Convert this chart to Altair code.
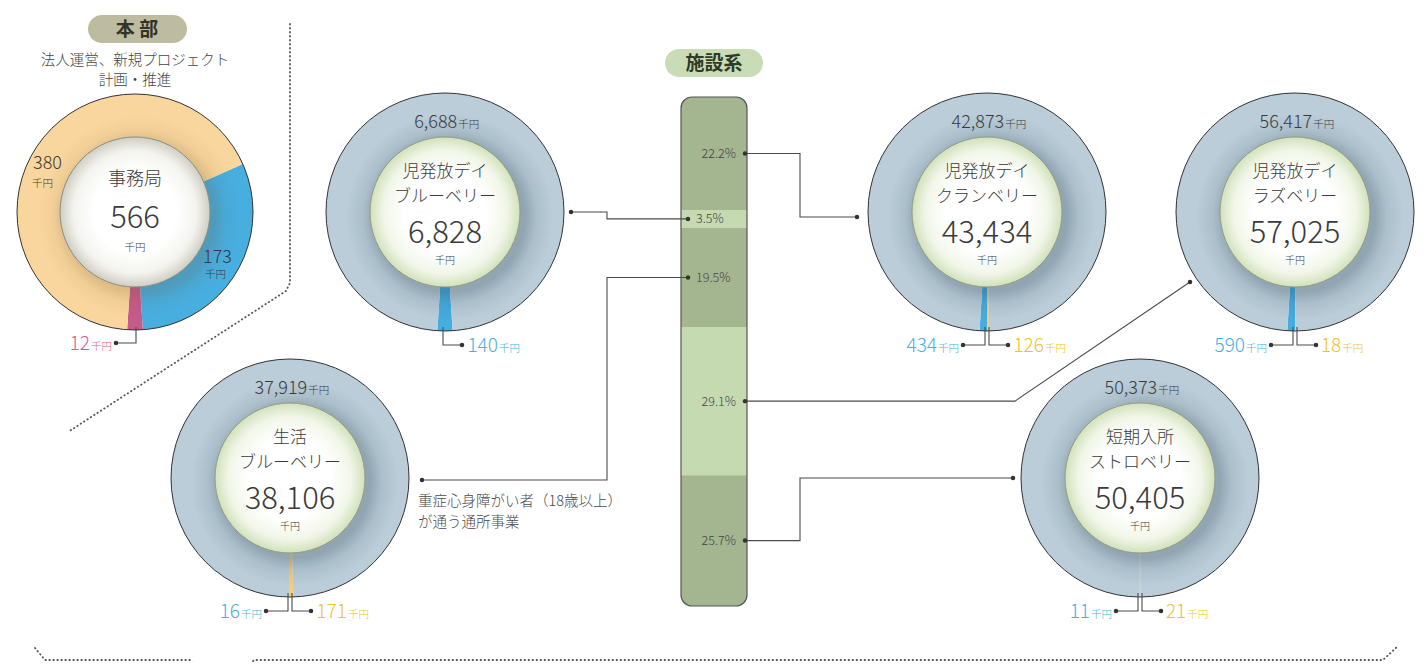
import math
import altair as alt
import pandas as pd

# ---------------- values ----------------
hq_badge = "本 部"
hq_caption = ["法人運営、新規プロジェクト", "計画・推進"]
hq_name = "事務局"
hq_total = 566
hq_parts = ["blue", "pink", "orange"]      # clockwise from the right side
hq_values = [173, 12, 380]

fac_badge = "施設系"
fac_line1 = ["児発放デイ", "児発放デイ", "児発放デイ", "生活", "短期入所"]
fac_line2 = ["ブルーベリー", "クランベリー", "ラズベリー", "ブルーベリー", "ストロベリー"]
fac_total = [6828, 43434, 57025, 38106, 50405]
fac_main = [6688, 42873, 56417, 37919, 50373]
fac_blue = [140, 434, 590, 16, 11]
fac_yellow = [0, 126, 18, 171, 21]
fac_note = ["重症心身障がい者（18歳以上）", "が通う通所事業"]

bar_pct = [22.2, 3.5, 19.5, 29.1, 25.7]     # top to bottom
bar_facility = [1, 0, 3, 2, 4]              # which facility each band belongs to
bar_shade = ["dark", "light", "dark", "light", "dark"]
unit = "千円"

# ---------------- layout & style (picture pixels) ----------------
PAGE = 8
W, H = 1407, 654
FONT = "Noto Sans CJK JP"
LIGHT = 300
C_TEXT = "#3a3a3a"
C_LINE = "#4a4a4a"
C_RING = "#bacdd9"
C_BLUE_SLICE = "#45ade0"
C_YEL_SLICE = "#f3cd78"
C_PINK_SLICE = "#c65a8b"
C_ORANGE = "#f9d69d"
C_BLUE_TXT = "#45b0e3"
C_YEL_TXT = "#efc12e"
C_PINK_TXT = "#d4598f"
HQ_FILL = {"blue": "#47aee0", "pink": C_PINK_SLICE, "orange": C_ORANGE}
BAR_FILL = {"dark": "#a3b690", "light": "#c6dab1"}

HQ_C = (135, 212)
HQ_R = (75, 118)
FAC_C = [(445, 212), (987, 212), (1295, 212), (290, 478), (1140, 478)]
FAC_R = (75, 119)
BAR_X0, BAR_X1, BAR_Y0, BAR_Y1 = 681, 747, 97, 606

TWO_PI = 2 * math.pi


def tw(s, fs):
    w = 0.0
    for ch in s:
        if ch.isdigit():
            w += 0.56 * fs
        elif ch in ",.%":
            w += 0.28 * fs
        else:
            w += 1.0 * fs
    return w


# ---------------- donut slices ----------------
slices, rings = [], []


def add_slices(cx, cy, ri, ro, vals, fills, start):
    s = float(sum(vals))
    a = start
    for v, f in zip(vals, fills):
        if v <= 0:
            continue
        b = a + v / s * TWO_PI
        slices.append(dict(cx=cx, cy=cy, t0=a, t1=b, ri=ri, ro=ro, fill=f))
        a = b


hq_sum = float(sum(hq_values))
hq_start = math.pi - (hq_values[0] + hq_values[1] / 2) / hq_sum * TWO_PI
add_slices(HQ_C[0], HQ_C[1], HQ_R[0], HQ_R[1], hq_values,
           [HQ_FILL[p] for p in hq_parts], hq_start)
rings.append(dict(cx=HQ_C[0], cy=HQ_C[1], ri=HQ_R[0], ro=HQ_R[1], kind="hq",
                  t0=0.0, t1=TWO_PI, zero=0))

for i, (cx, cy) in enumerate(FAC_C):
    vals = [fac_yellow[i], fac_blue[i], fac_main[i]]
    s = float(sum(vals))
    if fac_yellow[i] > 0:
        start = math.pi - fac_yellow[i] / s * TWO_PI
    else:
        start = math.pi - fac_blue[i] / 2 / s * TWO_PI
    add_slices(cx, cy, FAC_R[0], FAC_R[1], vals, [C_YEL_SLICE, C_BLUE_SLICE, C_RING], start)
    rings.append(dict(cx=cx, cy=cy, ri=FAC_R[0], ro=FAC_R[1], kind="fac",
                      t0=0.0, t1=TWO_PI, zero=0))

df_slices = pd.DataFrame(slices)
df_rings = pd.DataFrame(rings)

# ---------------- texts, lines, dots ----------------
texts, lines, dots = [], [], []


def T(x, y, s, fs, col=C_TEXT, align="center", weight=LIGHT):
    texts.append(dict(x=x, yb=y + 0.36 * fs, text=s, fs=fs, col=col,
                      align=align, weight=weight))


def compound(split, y, num, fs_num, col, fs_unit=10.5):
    yb = y + 0.36 * fs_num
    texts.append(dict(x=split, yb=yb, text=num, fs=fs_num, col=col, align="right", weight=LIGHT))
    texts.append(dict(x=split + 1, yb=yb, text=unit, fs=fs_unit, col=col, align="left", weight=LIGHT))


line_counter = [0]


def polyline(pts, kind="solid"):
    lid = line_counter[0]
    line_counter[0] += 1
    for k, (x, y) in enumerate(pts):
        lines.append(dict(id=f"l{lid}", k=k, x=x, y=y, kind=kind))


def dot(x, y):
    dots.append(dict(x=x, y=y))


# headquarters block
T(137, 29, hq_badge, 19, "#33332a", weight=700)
T(135, 60, hq_caption[0], 14.5, "#444444")
T(135, 80, hq_caption[1], 14.5, "#444444")
cx, cy = HQ_C
T(cx, cy - 33, hq_name, 18)
T(cx, cy + 5, f"{hq_total:,}", 31)
T(cx, cy + 35, unit, 10.5)
T(33, 163, f"{hq_values[2]:,}", 18, align="left")
T(32, 183, unit, 10.5, align="left")
T(203, 257, f"{hq_values[0]:,}", 18, align="left")
T(205, 274, unit, 10.5, align="left")
ly = cy + 131
polyline([(cx + 1, cy + HQ_R[1] - 3), (cx + 1, ly), (cx - 19, ly)])
dot(cx - 19, ly)
compound(cx - 24 - tw(unit, 10.5), ly, f"{hq_values[1]:,}", 19, C_PINK_TXT)

# facility donuts
for i, (cx, cy) in enumerate(FAC_C):
    num = f"{fac_main[i]:,}"
    wn, wu = tw(num, 18), tw(unit, 10.5)
    compound(cx + (wn - wu) / 2, cy - 90, num, 18, C_TEXT)
    T(cx, cy - 41, fac_line1[i], 17)
    T(cx, cy - 16, fac_line2[i], 17)
    T(cx, cy + 20, f"{fac_total[i]:,}", 31)
    T(cx, cy + 48, unit, 10)
    ly = cy + 133
    ro = FAC_R[1]
    if fac_yellow[i] > 0:
        polyline([(cx - 2, cy + ro - 4), (cx - 2, ly), (cx - 24, ly)])
        dot(cx - 24, ly)
        compound(cx - 29 - tw(unit, 10.5), ly, f"{fac_blue[i]:,}", 19, C_BLUE_TXT)
        polyline([(cx + 2, cy + ro - 4), (cx + 2, ly), (cx + 21, ly)])
        dot(cx + 21, ly)
        ytxt = f"{fac_yellow[i]:,}"
        compound(cx + 25 + tw(ytxt, 19), ly, ytxt, 19, C_YEL_TXT)
    else:
        polyline([(cx - 2, cy + ro - 4), (cx - 2, ly), (cx + 17, ly)])
        dot(cx + 17, ly)
        btxt = f"{fac_blue[i]:,}"
        compound(cx + 21 + tw(btxt, 19), ly, btxt, 19, C_BLUE_TXT)

# note for 生活ブルーベリー
T(418, 501, fac_note[0], 14.5, "#4a4a4a", align="left")
T(418, 522, fac_note[1], 14.5, "#4a4a4a", align="left")

# facility badge
T(714, 63, fac_badge, 19, "#2f3a28", weight=700)

# stacked share bar
bars = []
acc = 0.0
span = BAR_Y1 - BAR_Y0
mids = []
for k, p in enumerate(bar_pct):
    y0 = BAR_Y0 + acc / 100.0 * span
    y1 = BAR_Y0 + (acc + p) / 100.0 * span
    pos = "top" if k == 0 else ("bottom" if k == len(bar_pct) - 1 else "mid")
    bars.append(dict(x0=BAR_X0, x1=BAR_X1, y0=y0, y1=y1, fill=BAR_FILL[bar_shade[k]], pos=pos))
    mids.append((y0 + y1) / 2)
    acc += p
df_bar = pd.DataFrame(bars)
df_bar_outline = pd.DataFrame([dict(x0=BAR_X0, x1=BAR_X1, y0=BAR_Y0, y1=BAR_Y1)])

label_side = ["right", "left", "left", "right", "right"]
for k, p in enumerate(bar_pct):
    m = mids[k]
    if label_side[k] == "right":
        T(736, m, f"{p:.1f}%", 12.5, "#444444", align="right")
        dot(745, m)
    else:
        T(696, m, f"{p:.1f}%", 12.5, "#444444", align="left")
        dot(688, m)

# connectors bar <-> donuts
polyline([(745, mids[0]), (800, mids[0]), (800, 217), (857, 217)]); dot(857, 217)
polyline([(571, 212), (607, 212), (607, mids[1]), (688, mids[1])]); dot(571, 212)
polyline([(688, mids[2]), (607, mids[2]), (607, 480), (422, 480)]); dot(422, 480)
polyline([(745, mids[3]), (1015, mids[3]), (1190, 282)]); dot(1190, 282)
polyline([(745, mids[4]), (800, mids[4]), (800, 478), (1013, 478)]); dot(1013, 478)

# dotted separators
polyline([(290, 24), (290, 283), (286, 291), (68, 432)], "dot")
polyline([(35, 648), (45, 660), (190, 660), (198, 670)], "dot")
polyline([(245, 670), (254, 660), (1383, 660), (1398, 646)], "dot")

df_text = pd.DataFrame(texts)
df_lines = pd.DataFrame(lines)
df_dots = pd.DataFrame(dots)
df_pills = pd.DataFrame([
    dict(x0=88, x1=187, y0=15, y1=43, fill="#bdbca1"),
    dict(x0=665, x1=763, y0=49, y1=77, fill="#c9dcb5"),
])

# ---------------- scales & helpers ----------------
XS = alt.Scale(domain=[PAGE, PAGE + W], nice=False, zero=False)
YS = alt.Scale(domain=[PAGE, PAGE + H], nice=False, zero=False, reverse=True)


def xe(f):
    return alt.X(f"{f}:Q", scale=XS, axis=None)


def ye(f):
    return alt.Y(f"{f}:Q", scale=YS, axis=None)


def arc_chart(df, ro="ro", ri="ri", **mark):
    return alt.Chart(df).mark_arc(**mark).encode(
        x=xe("cx"), y=ye("cy"),
        theta=alt.Theta("t0:Q", scale=None, stack=False),
        theta2=alt.Theta2("t1:Q"),
        radius=alt.Radius(f"{ro}:Q", scale=None),
        radius2=alt.Radius2(f"{ri}:Q"),
    )


def radial(stops, c=0.5):
    return {"gradient": "radial", "x1": c, "y1": c, "r1": 0, "x2": c, "y2": c, "r2": 0.5,
            "stops": [{"offset": o, "color": col} for o, col in stops]}


layers = []

# badges
layers.append(alt.Chart(df_pills).mark_rect(cornerRadius=14).encode(
    x=xe("x0"), x2=alt.X2("x1:Q"), y=ye("y0"), y2=alt.Y2("y1:Q"),
    color=alt.Color("fill:N", scale=None)))

# dotted lines
layers.append(alt.Chart(df_lines[df_lines.kind == "dot"]).mark_line(
    strokeDash=[0.5, 3.5], strokeCap="round", strokeWidth=1.8, color="#555555").encode(
    x=xe("x"), y=ye("y"), detail="id:N", order="k:Q"))

# bar
bar_enc = dict(x=xe("x0"), x2=alt.X2("x1:Q"), y=ye("y0"), y2=alt.Y2("y1:Q"),
               color=alt.Color("fill:N", scale=None))
layers.append(alt.Chart(df_bar[df_bar.pos == "top"]).mark_rect(
    cornerRadiusTopLeft=11, cornerRadiusTopRight=11).encode(**bar_enc))
layers.append(alt.Chart(df_bar[df_bar.pos == "mid"]).mark_rect().encode(**bar_enc))
layers.append(alt.Chart(df_bar[df_bar.pos == "bottom"]).mark_rect(
    cornerRadiusBottomLeft=11, cornerRadiusBottomRight=11).encode(**bar_enc))
layers.append(alt.Chart(df_bar_outline).mark_rect(
    cornerRadius=11, fillOpacity=0, stroke="#555555", strokeWidth=1.2).encode(
    x=xe("x0"), x2=alt.X2("x1:Q"), y=ye("y0"), y2=alt.Y2("y1:Q")))

# donut slices
layers.append(arc_chart(df_slices).encode(color=alt.Color("fill:N", scale=None)))

# inner shadows on the rings
fac_ratio = FAC_R[0] / FAC_R[1]
hq_ratio = HQ_R[0] / HQ_R[1]
layers.append(arc_chart(df_rings[df_rings.kind == "fac"], fill=radial([
    (0.0, "rgba(40,60,75,0.28)"), (fac_ratio, "rgba(40,60,75,0.28)"),
    (fac_ratio + 0.10, "rgba(40,60,75,0.10)"), (fac_ratio + 0.24, "rgba(40,60,75,0)"),
    (1.0, "rgba(40,60,75,0)")], c=0.52)))
layers.append(arc_chart(df_rings[df_rings.kind == "hq"], fill=radial([
    (0.0, "rgba(110,80,40,0.20)"), (hq_ratio, "rgba(110,80,40,0.20)"),
    (hq_ratio + 0.10, "rgba(110,80,40,0.06)"), (hq_ratio + 0.22, "rgba(110,80,40,0)"),
    (1.0, "rgba(110,80,40,0)")], c=0.52)))

# outer outlines
layers.append(arc_chart(df_rings, ri="zero", fillOpacity=0, stroke="#333333", strokeWidth=1))

# inner discs
layers.append(arc_chart(df_rings[df_rings.kind == "fac"], ro="ri", ri="zero",
                        stroke="#8c9a80", strokeWidth=1, fill=radial([
                            (0.0, "#ffffff"), (0.55, "#ffffff"), (0.82, "#f1f6e8"),
                            (1.0, "#d2e1bb")])))
layers.append(arc_chart(df_rings[df_rings.kind == "hq"], ro="ri", ri="zero",
                        stroke="#8a8a80", strokeWidth=1, fill=radial([
                            (0.0, "#ffffff"), (0.55, "#ffffff"), (0.82, "#f3f3ee"),
                            (1.0, "#cfcec3")])))

# connector lines and dots
layers.append(alt.Chart(df_lines[df_lines.kind == "solid"]).mark_line(
    strokeWidth=1.1, color=C_LINE).encode(
    x=xe("x"), y=ye("y"), detail="id:N", order="k:Q"))
layers.append(alt.Chart(df_dots).mark_circle(size=20, color="#333333", opacity=1).encode(
    x=xe("x"), y=ye("y")))

# texts
for (al, wt), sub in df_text.groupby(["align", "weight"]):
    layers.append(alt.Chart(sub).mark_text(
        align=al, baseline="alphabetic", font=FONT, fontWeight=int(wt)).encode(
        x=xe("x"), y=ye("yb"), text="text:N",
        size=alt.Size("fs:Q", scale=None), color=alt.Color("col:N", scale=None)))

chart = alt.layer(*layers).properties(
    width=W, height=H, padding=0,
    autosize=alt.AutoSizeParams(type="none"),
    background="white",
).configure_view(strokeWidth=0)

chart.save("out.html", embed_options={"renderer": "svg", "actions": False})
